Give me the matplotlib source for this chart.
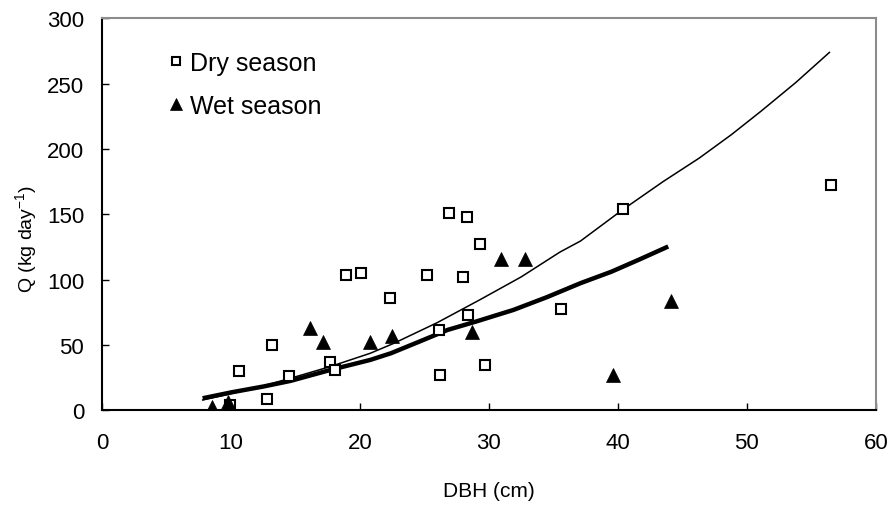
# plot.py
# Q vs DBH, dry and wet season with fitted curves
import numpy as np
import matplotlib.pyplot as plt

plt.rcParams['font.family'] = ['Liberation Sans', 'DejaVu Sans']

# ==== data ====
dry_dbh = [9.9, 10.6, 12.8, 13.2, 14.5, 17.7, 18.1, 18.9, 20.1, 22.3, 25.2,
           26.1, 26.2, 26.9, 28.0, 28.3, 28.4, 29.3, 29.7, 35.6, 40.4, 56.5]
dry_q = [3.5, 30, 8.5, 50, 26, 36.5, 31, 103.5, 105, 85.5, 103.5,
         61, 27, 151, 102, 148, 73, 127, 34.5, 77.5, 154, 172.5]

wet_dbh = [8.5, 9.8, 16.1, 17.1, 20.8, 22.5, 28.7, 30.9, 32.8, 39.6, 44.1]
wet_q = [2, 6.5, 63, 52, 52, 57, 60, 115.5, 115.5, 26.5, 83.5]

# fitted curves
dry_fit_x = [7.8, 10.0, 12.5, 14.6, 17.7, 20.8, 22.6, 26.0, 29.3, 32.5,
             35.5, 37.1, 40.3, 43.5, 46.3, 48.8, 51.1, 53.8, 56.4]
dry_fit_y = [7.7, 12.5, 18.5, 24.3, 33.3, 43.5, 51.0, 67.0, 84.5, 102.0,
             121.0, 129.5, 153.0, 175.0, 193.0, 211.0, 229.0, 251.0, 274.0]
wet_fit_x = [7.8, 10.0, 12.5, 14.6, 17.7, 20.8, 22.4, 24.5, 26.8, 29.0,
             31.9, 34.5, 37.1, 39.5, 41.7, 43.9]
wet_fit_y = [9.0, 13.5, 18.0, 22.3, 30.7, 38.4, 43.5, 52.0, 61.4, 67.8,
             76.7, 86.5, 97.2, 106.0, 115.5, 125.3]

# ==== plotting ====
fig = plt.figure(figsize=(8.93, 5.06), dpi=100)
ax = fig.add_axes([0.1143, 0.1877, 0.8665, 0.7738])

ax.plot(dry_fit_x, dry_fit_y, color='black', lw=1.1, zorder=2)
ax.plot(wet_fit_x, wet_fit_y, color='black', lw=3.2, zorder=2,
        solid_capstyle='butt')

ax.plot(dry_dbh, dry_q, ls='none', marker='s', ms=7.5, mfc='white',
        mec='black', mew=1.5, label='Dry season', zorder=3)
ax.plot(wet_dbh, wet_q, ls='none', marker='^', ms=10, mfc='black',
        mec='black', mew=0.5, label='Wet season', zorder=3)

ax.set_xlim(0, 60)
ax.set_ylim(0, 300)
ax.set_xticks(np.arange(0, 61, 10))
ax.set_yticks(np.arange(0, 301, 50))
ax.tick_params(direction='in', length=5, width=1, labelsize=16)
ax.tick_params(axis='x', pad=16)
ax.tick_params(axis='y', pad=13)

for side in ['left', 'bottom']:
    ax.spines[side].set_color('black')
    ax.spines[side].set_linewidth(1.5)
for side in ['top', 'right']:
    ax.spines[side].set_color('#8c8c8c')
    ax.spines[side].set_linewidth(1.5)

ax.set_xlabel('DBH (cm)', fontsize=15, labelpad=20)
ax.set_ylabel('Q (kg day$^{\\mathregular{-1}}$)', fontsize=14)
ax.yaxis.set_label_coords(-0.08, 0.44)

ax.legend(loc='upper left', bbox_to_anchor=(0.05, 0.975), frameon=False,
          fontsize=18, handletextpad=0.05, labelspacing=0.75, handlelength=1.0,
          markerscale=0.85)

fig.savefig('out.png', dpi=100)
